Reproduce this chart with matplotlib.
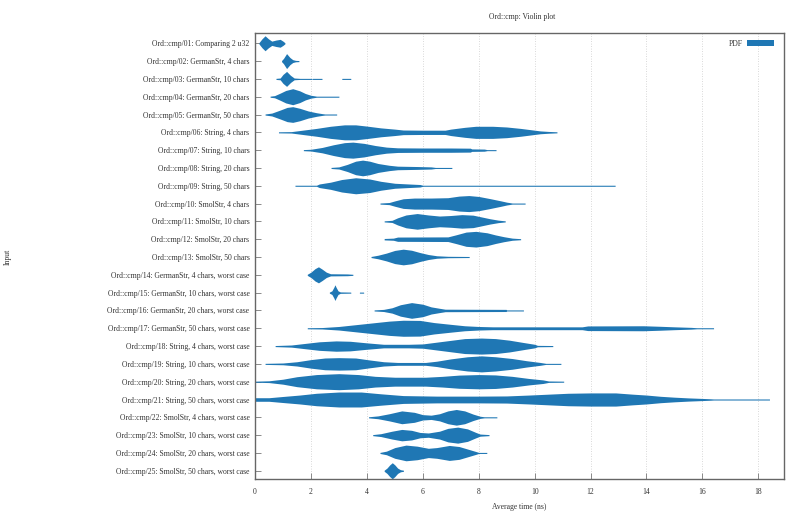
import matplotlib
matplotlib.use("Agg")
import matplotlib.pyplot as plt
from matplotlib.patches import Patch
import numpy as np

plt.rcParams['font.family'] = ['Liberation Serif', 'DejaVu Serif']

labels = [
    "Ord::cmp/01: Comparing 2 u32",
    "Ord::cmp/02: GermanStr, 4 chars",
    "Ord::cmp/03: GermanStr, 10 chars",
    "Ord::cmp/04: GermanStr, 20 chars",
    "Ord::cmp/05: GermanStr, 50 chars",
    "Ord::cmp/06: String, 4 chars",
    "Ord::cmp/07: String, 10 chars",
    "Ord::cmp/08: String, 20 chars",
    "Ord::cmp/09: String, 50 chars",
    "Ord::cmp/10: SmolStr, 4 chars",
    "Ord::cmp/11: SmolStr, 10 chars",
    "Ord::cmp/12: SmolStr, 20 chars",
    "Ord::cmp/13: SmolStr, 50 chars",
    "Ord::cmp/14: GermanStr, 4 chars, worst case",
    "Ord::cmp/15: GermanStr, 10 chars, worst case",
    "Ord::cmp/16: GermanStr, 20 chars, worst case",
    "Ord::cmp/17: GermanStr, 50 chars, worst case",
    "Ord::cmp/18: String, 4 chars, worst case",
    "Ord::cmp/19: String, 10 chars, worst case",
    "Ord::cmp/20: String, 20 chars, worst case",
    "Ord::cmp/21: String, 50 chars, worst case",
    "Ord::cmp/22: SmolStr, 4 chars, worst case",
    "Ord::cmp/23: SmolStr, 10 chars, worst case",
    "Ord::cmp/24: SmolStr, 20 chars, worst case",
    "Ord::cmp/25: SmolStr, 50 chars, worst case",
]

# Violin profiles: time (ns) and relative half-width (density)
v01_t = [0.14, 0.25, 0.36, 0.48, 0.6, 0.75, 0.9, 1.0, 1.07]
v01_w = [0.03, 0.25, 0.42, 0.25, 0.12, 0.18, 0.22, 0.12, 0.03]
v02_t = [0.95, 1.02, 1.13, 1.25, 1.35, 1.45, 1.57]
v02_w = [0.03, 0.15, 0.42, 0.2, 0.08, 0.04, 0.03]
v03_t = [0.75, 0.9, 1.0, 1.13, 1.27, 1.4, 1.6, 2.03, 2.04, 2.06, 2.39, 2.4, 3.1, 3.11, 3.42, 3.43]
v03_w = [0.03, 0.05, 0.25, 0.42, 0.2, 0.05, 0.03, 0.03, 0.0, 0.03, 0.03, 0.0, 0.0, 0.03, 0.03, 0.0]
v04_t = [0.54, 0.7, 0.9, 1.1, 1.35, 1.6, 1.8, 2.0, 2.2, 3.0]
v04_w = [0.03, 0.06, 0.2, 0.35, 0.45, 0.33, 0.18, 0.08, 0.03, 0.03]
v05_t = [0.36, 0.6, 0.9, 1.15, 1.35, 1.6, 1.9, 2.2, 2.4, 2.5, 2.92]
v05_w = [0.03, 0.08, 0.25, 0.4, 0.44, 0.35, 0.2, 0.1, 0.05, 0.03, 0.03]
v06_t = [0.84, 1.3, 1.7, 2.2, 2.7, 3.2, 3.6, 4.0, 4.5, 5.0, 5.3, 6.0, 6.8, 7.0, 7.5, 7.9, 8.5, 9.0, 9.5, 9.9, 10.2, 10.5, 10.8]
v06_w = [0.03, 0.04, 0.12, 0.22, 0.34, 0.42, 0.42, 0.35, 0.25, 0.18, 0.13, 0.12, 0.12, 0.18, 0.28, 0.34, 0.34, 0.3, 0.22, 0.14, 0.08, 0.05, 0.03]
v07_t = [1.73, 2.0, 2.4, 2.8, 3.2, 3.5, 3.9, 4.3, 4.7, 5.1, 6.0, 7.0, 7.7, 7.75, 8.2, 8.3, 8.62]
v07_w = [0.03, 0.05, 0.15, 0.3, 0.42, 0.45, 0.38, 0.26, 0.17, 0.13, 0.12, 0.12, 0.11, 0.07, 0.06, 0.03, 0.03]
v08_t = [2.72, 3.0, 3.3, 3.6, 3.85, 4.1, 4.4, 4.8, 5.1, 5.8, 6.3, 6.45, 7.04]
v08_w = [0.03, 0.06, 0.2, 0.38, 0.44, 0.38, 0.25, 0.15, 0.1, 0.08, 0.06, 0.03, 0.03]
v09_t = [1.43, 2.2, 2.3, 2.7, 3.1, 3.6, 4.1, 4.5, 5.0, 5.5, 5.9, 6.0, 12.88]
v09_w = [0.03, 0.03, 0.1, 0.2, 0.35, 0.45, 0.38, 0.25, 0.14, 0.1, 0.07, 0.03, 0.03]
v10_t = [4.47, 4.8, 5.0, 5.3, 5.7, 6.3, 6.9, 7.3, 7.65, 8.0, 8.4, 8.8, 9.0, 9.2, 9.66]
v10_w = [0.03, 0.06, 0.15, 0.27, 0.31, 0.31, 0.33, 0.42, 0.45, 0.4, 0.28, 0.15, 0.08, 0.03, 0.03]
v11_t = [4.62, 4.9, 5.1, 5.4, 5.8, 6.2, 6.6, 7.0, 7.4, 7.8, 8.1, 8.4, 8.7, 8.95]
v11_w = [0.03, 0.06, 0.2, 0.36, 0.44, 0.36, 0.3, 0.33, 0.38, 0.35, 0.25, 0.15, 0.07, 0.03]
v12_t = [4.62, 4.95, 5.1, 6.9, 7.2, 7.55, 7.9, 8.3, 8.6, 8.9, 9.2, 9.5]
v12_w = [0.04, 0.06, 0.12, 0.13, 0.25, 0.4, 0.44, 0.36, 0.24, 0.14, 0.06, 0.03]
v13_t = [4.15, 4.4, 4.7, 5.0, 5.3, 5.6, 5.9, 6.2, 6.5, 6.9, 7.66]
v13_w = [0.03, 0.1, 0.22, 0.37, 0.44, 0.38, 0.25, 0.14, 0.07, 0.04, 0.03]
v14_t = [1.87, 2.0, 2.15, 2.27, 2.4, 2.55, 2.7, 3.3, 3.5]
v14_w = [0.03, 0.15, 0.35, 0.45, 0.32, 0.15, 0.06, 0.05, 0.03]
v15_t = [2.66, 2.75, 2.82, 2.86, 2.9, 2.97, 3.05, 3.42, 3.43, 3.73, 3.74, 3.88, 3.89]
v15_w = [0.03, 0.1, 0.3, 0.44, 0.3, 0.1, 0.04, 0.03, 0.0, 0.0, 0.03, 0.03, 0.0]
v16_t = [4.26, 4.6, 4.9, 5.2, 5.6, 6.0, 6.3, 6.6, 6.8, 8.98, 9.0, 9.6]
v16_w = [0.03, 0.06, 0.15, 0.32, 0.44, 0.35, 0.2, 0.12, 0.07, 0.06, 0.03, 0.03]
v17_t = [1.87, 2.4, 3.0, 3.6, 4.2, 4.8, 5.3, 5.9, 6.4, 7.0, 7.5, 8.0, 8.5, 11.7, 11.9, 13.9, 14.5, 15.0, 15.6, 15.8, 16.4]
v17_w = [0.03, 0.04, 0.1, 0.2, 0.3, 0.4, 0.45, 0.44, 0.32, 0.22, 0.14, 0.1, 0.08, 0.08, 0.13, 0.14, 0.11, 0.08, 0.05, 0.03, 0.03]
v18_t = [0.72, 1.3, 1.8, 2.3, 2.9, 3.4, 4.0, 4.6, 5.5, 6.0, 6.5, 7.0, 7.5, 8.1, 8.6, 9.1, 9.6, 10.0, 10.1, 10.65]
v18_w = [0.03, 0.06, 0.15, 0.24, 0.29, 0.27, 0.18, 0.1, 0.1, 0.12, 0.22, 0.32, 0.42, 0.45, 0.42, 0.33, 0.2, 0.1, 0.04, 0.03]
v19_t = [0.36, 1.0, 1.5, 2.0, 2.5, 3.0, 3.6, 4.1, 4.6, 5.1, 6.1, 6.5, 7.0, 7.6, 8.1, 8.6, 9.2, 9.7, 10.2, 10.4, 10.94]
v19_w = [0.03, 0.05, 0.12, 0.24, 0.33, 0.35, 0.33, 0.22, 0.12, 0.08, 0.08, 0.15, 0.28, 0.4, 0.45, 0.4, 0.3, 0.18, 0.08, 0.03, 0.03]
v20_t = [0.0, 0.5, 1.0, 1.5, 2.2, 3.0, 3.7, 4.3, 5.0, 6.1, 6.7, 7.3, 8.0, 8.6, 9.2, 9.8, 10.3, 10.5, 11.04]
v20_w = [0.03, 0.05, 0.14, 0.28, 0.4, 0.45, 0.4, 0.3, 0.25, 0.25, 0.3, 0.37, 0.4, 0.38, 0.3, 0.18, 0.1, 0.04, 0.03]
v21_t = [0.0, 0.5, 1.0, 1.6, 2.2, 3.0, 3.8, 4.5, 5.3, 6.5, 8.0, 9.0, 9.8, 10.5, 11.2, 12.0, 12.9, 13.5, 14.0, 14.5, 15.0, 15.5, 16.0, 16.3, 16.4, 18.4]
v21_w = [0.1, 0.1, 0.17, 0.25, 0.35, 0.42, 0.42, 0.32, 0.22, 0.19, 0.19, 0.2, 0.25, 0.3, 0.35, 0.37, 0.37, 0.3, 0.25, 0.18, 0.13, 0.09, 0.06, 0.04, 0.03, 0.03]
v22_t = [4.06, 4.4, 4.8, 5.25, 5.7, 6.0, 6.3, 6.6, 6.9, 7.2, 7.5, 7.8, 8.05, 8.2, 8.65]
v22_w = [0.03, 0.08, 0.2, 0.36, 0.28, 0.15, 0.12, 0.2, 0.36, 0.44, 0.36, 0.18, 0.06, 0.03, 0.03]
v23_t = [4.21, 4.5, 4.9, 5.25, 5.6, 5.9, 6.2, 6.6, 6.9, 7.25, 7.6, 7.9, 8.05, 8.37]
v23_w = [0.03, 0.08, 0.22, 0.32, 0.27, 0.15, 0.12, 0.22, 0.38, 0.45, 0.35, 0.15, 0.06, 0.03]
v24_t = [4.47, 4.7, 5.0, 5.4, 5.8, 6.2, 6.5, 6.95, 7.3, 7.6, 7.9, 8.0, 8.29]
v24_w = [0.03, 0.1, 0.3, 0.44, 0.38, 0.26, 0.3, 0.42, 0.36, 0.22, 0.08, 0.03, 0.03]
v25_t = [4.62, 4.72, 4.82, 4.91, 5.0, 5.1, 5.2, 5.31]
v25_w = [0.03, 0.15, 0.33, 0.45, 0.33, 0.15, 0.06, 0.03]

x_ticks = [0, 2, 4, 6, 8, 10, 12, 14, 16, 18]

profiles = [
    (v01_t, v01_w), (v02_t, v02_w), (v03_t, v03_w), (v04_t, v04_w), (v05_t, v05_w),
    (v06_t, v06_w), (v07_t, v07_w), (v08_t, v08_w), (v09_t, v09_w), (v10_t, v10_w),
    (v11_t, v11_w), (v12_t, v12_w), (v13_t, v13_w), (v14_t, v14_w), (v15_t, v15_w),
    (v16_t, v16_w), (v17_t, v17_w), (v18_t, v18_w), (v19_t, v19_w), (v20_t, v20_w),
    (v21_t, v21_w), (v22_t, v22_w), (v23_t, v23_w), (v24_t, v24_w), (v25_t, v25_w),
]

color = '#1f77b4'
text_color = '#333333'
fs = 5.5

fig = plt.figure(figsize=(8, 5.16), dpi=100)
ax = fig.add_axes([255/800, 1 - 479.3/516, (784-255)/800, (479.3-33.3)/516])

for i, (t, w) in enumerate(profiles):
    pos = i + 1
    t = np.asarray(t, dtype=float)
    w = np.asarray(w, dtype=float)
    ax.fill_between(t, pos - w, pos + w, color=color, linewidth=0)

ax.set_xlim(0, 18.92)
ax.set_ylim(25.48, 0.44)
ax.set_yticks(range(1, len(labels) + 1))
ax.set_yticklabels(labels)
ax.set_xticks(x_ticks)
ax.set_xticklabels([str(v) for v in x_ticks])
ax.tick_params(axis='both', direction='in', length=4, width=0.6, color='#777777',
               labelsize=fs, labelcolor=text_color, pad=4)
ax.tick_params(axis='x', pad=6)
ax.xaxis.grid(True, linestyle=(0, (1, 2)), color='#cccccc', linewidth=0.6)
ax.set_axisbelow(True)
for s in ax.spines.values():
    s.set_color('#666666')
    s.set_linewidth(1.0)

ax.set_xlabel('Average time (ns)', fontsize=fs, color=text_color, labelpad=5)
fig.text(8/800, 1 - 257/516, 'Input', rotation=90, fontsize=fs, color=text_color,
         ha='center', va='center')
fig.text(522/800, 1 - 17/516, 'Ord::cmp: Violin plot', fontsize=fs, color=text_color,
         ha='center', va='center')

handle = Patch(facecolor=color, edgecolor='none', label='PDF')
ax.legend(handles=[handle], loc='upper right', frameon=False, fontsize=fs,
          markerfirst=False, handlelength=3.6, handleheight=0.8, handletextpad=0.5,
          borderpad=0, borderaxespad=0,
          bbox_to_anchor=((774 - 255) / 529, (479.3 - 40) / 446), labelcolor=text_color)

fig.savefig('out.png', dpi=100)
